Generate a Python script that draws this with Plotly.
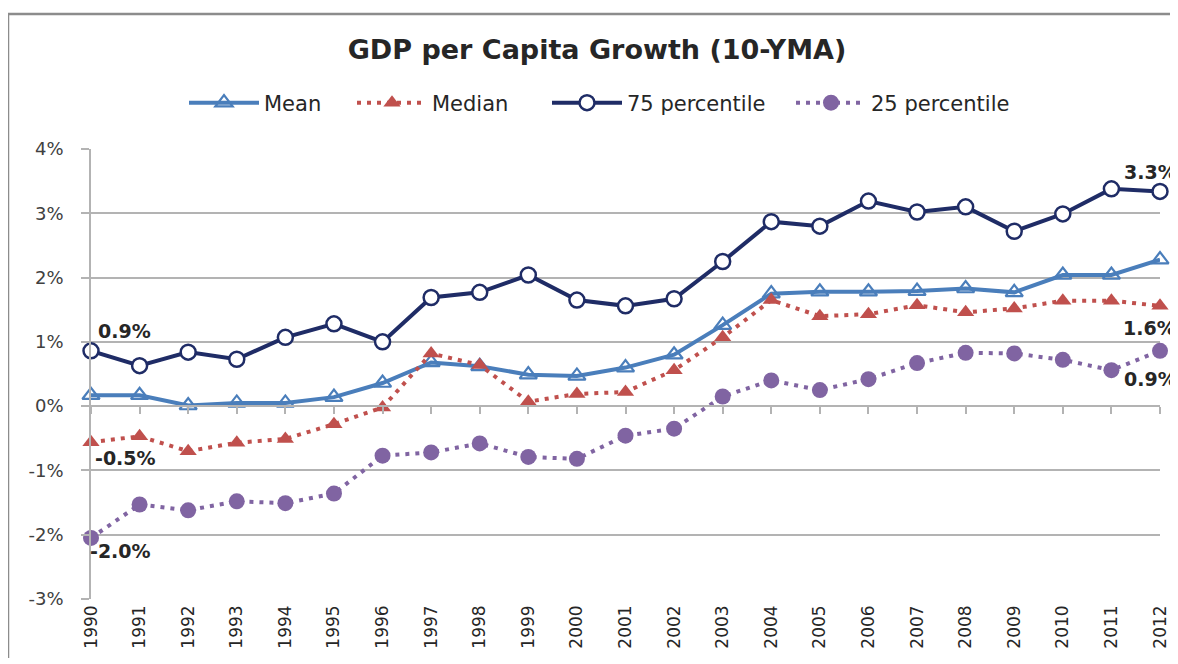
import plotly.graph_objects as go

years = list(range(1990, 2013))
mean_vals = [0.17, 0.17, 0.01, 0.05, 0.05, 0.14, 0.36, 0.68, 0.62, 0.49, 0.47, 0.60, 0.80,
             1.26, 1.75, 1.78, 1.78, 1.79, 1.83, 1.77, 2.04, 2.04, 2.28]
median_vals = [-0.56, -0.47, -0.70, -0.57, -0.51, -0.28, -0.02, 0.82, 0.64, 0.07, 0.19, 0.22, 0.56,
               1.07, 1.65, 1.40, 1.43, 1.57, 1.46, 1.52, 1.64, 1.64, 1.56]
p75_vals = [0.86, 0.63, 0.84, 0.73, 1.07, 1.28, 1.00, 1.69, 1.77, 2.04, 1.65, 1.56, 1.67,
            2.25, 2.87, 2.80, 3.19, 3.02, 3.10, 2.72, 2.99, 3.38, 3.34]
p25_vals = [-2.05, -1.53, -1.62, -1.48, -1.51, -1.36, -0.77, -0.72, -0.58, -0.79, -0.82, -0.46, -0.35,
            0.15, 0.40, 0.25, 0.42, 0.67, 0.83, 0.82, 0.72, 0.56, 0.86]

y_ticks = [-3, -2, -1, 0, 1, 2, 3, 4]
y_tick_labels = ["-3%", "-2%", "-1%", "0%", "1%", "2%", "3%", "4%"]
x_tick_labels = [str(y) for y in years]

title_text = "GDP per Capita Growth (10-YMA)"

C_MEAN = "#4A7EBB"
C_MED = "#C0504D"
C_P75 = "#1F2C66"
C_P25 = "#8064A2"
GRID = "#b3b3b3"
TXT = "#262626"

fig = go.Figure()

fig.add_trace(go.Scatter(
    x=years, y=mean_vals, name="Mean", mode="lines+markers", legend="legend",
    line=dict(color=C_MEAN, width=4),
    marker=dict(symbol="triangle-up-open", size=15, color=C_MEAN, line=dict(width=2.2, color=C_MEAN)),
    cliponaxis=False,
))
fig.add_trace(go.Scatter(
    x=years, y=median_vals, name="Median", mode="lines+markers", legend="legend2",
    line=dict(color=C_MED, width=4, dash="4px,6px"),
    marker=dict(symbol="triangle-up", size=15, color=C_MED),
    cliponaxis=False,
))
fig.add_trace(go.Scatter(
    x=years, y=p75_vals, name="75 percentile", mode="lines+markers", legend="legend3",
    line=dict(color=C_P75, width=4),
    marker=dict(symbol="circle", size=15, color="white", line=dict(width=2.5, color=C_P75)),
    cliponaxis=False,
))
fig.add_trace(go.Scatter(
    x=years, y=p25_vals, name="25 percentile", mode="lines+markers", legend="legend4",
    line=dict(color=C_P25, width=4, dash="4px,6px"),
    marker=dict(symbol="circle", size=16, color=C_P25),
    cliponaxis=False,
))
# invisible trace to carry the tick-mark axis at the 0% line
fig.add_trace(go.Scatter(
    x=years, y=[None] * len(years), xaxis="x2", yaxis="y",
    showlegend=False, hoverinfo="skip", mode="lines",
))

lab_font = dict(family="DejaVu Sans", size=19, color=TXT, weight="bold")
first, last = 0, len(years) - 1
labels = [
    (years[first], p75_vals[first], "0.9%", 5, 20),
    (years[first], median_vals[first], "-0.5%", 2, -16),
    (years[first], p25_vals[first], "-2.0%", -3, -13),
    (years[last], p75_vals[last], "3.3%", -38, 19),
    (years[last], median_vals[last], "1.6%", -39, -22),
    (years[last], p25_vals[last], "0.9%", -38, -28),
]
for x, y, t, xs, ys in labels:
    fig.add_annotation(x=x, y=y, text=t, showarrow=False, xanchor="left", yanchor="middle",
                       xshift=xs, yshift=ys, font=lab_font)

# page body has an 8px margin; size the figure so the page does not scroll
OFF = 8
W, H = 1170, 650
L, T = 91 - OFF, 149 - OFF
R = W - (1160 - OFF)
B = H - (599 - OFF)
pw, ph = W - L - R, H - T - B

def px_x(x):  # window pixel -> paper x
    return (x - OFF - L) / pw

def px_y(y):  # window pixel -> paper y
    return 1 - (y - OFF - T) / ph

# outer frame
fig.add_shape(type="rect", xref="paper", yref="paper",
              x0=px_x(8), x1=px_x(1200), y0=px_y(700), y1=px_y(14),
              line=dict(color="#8c8c8c", width=2.5), fillcolor="rgba(0,0,0,0)", layer="below")

leg_font = dict(family="DejaVu Sans", size=21, color=TXT)
def leg(xpix):
    return dict(orientation="h", x=px_x(xpix), xanchor="left", y=px_y(103), yanchor="middle",
                font=leg_font, itemwidth=70, bgcolor="rgba(0,0,0,0)", borderwidth=0)

fig.update_layout(
    width=W, height=H,
    margin=dict(l=L, r=R, t=T, b=B, autoexpand=False),
    paper_bgcolor="white", plot_bgcolor="white",
    title=dict(text=title_text, x=(597 - OFF) / W, xanchor="center", y=1 - (50 - OFF) / H, yanchor="middle",
               font=dict(family="DejaVu Sans", size=27, color=TXT, weight="bold")),
    legend=leg(184), legend2=leg(352), legend3=leg(547), legend4=leg(791),
    xaxis=dict(range=[years[0], years[-1]], tickmode="array", tickvals=years, ticktext=x_tick_labels,
               tickangle=-90, showgrid=False, zeroline=False, showline=False, ticks="", automargin=False,
               tickfont=dict(family="DejaVu Sans", size=17, color=TXT), ticklabelstandoff=2),
    xaxis2=dict(range=[years[0], years[-1]], overlaying="x", anchor="free", automargin=False,
                position=(0 - y_ticks[0]) / (y_ticks[-1] - y_ticks[0]),
                tickmode="array", tickvals=years, showticklabels=False, ticks="outside",
                ticklen=7, tickwidth=1.5, tickcolor=GRID, showline=True, linecolor=GRID, linewidth=1.5,
                showgrid=False, zeroline=False),
    yaxis=dict(range=[y_ticks[0], y_ticks[-1]], tickmode="array", tickvals=y_ticks, ticktext=y_tick_labels,
               showgrid=True, gridcolor=GRID, gridwidth=1.5, zeroline=False, automargin=False,
               showline=True, linecolor=GRID, linewidth=1.5, ticks="outside", ticklen=8,
               tickcolor=GRID, tickwidth=1.5, ticklabelstandoff=14,
               tickfont=dict(family="DejaVu Sans", size=18, color="#404040")),
    showlegend=True,
)

fig.write_html("out.html")
